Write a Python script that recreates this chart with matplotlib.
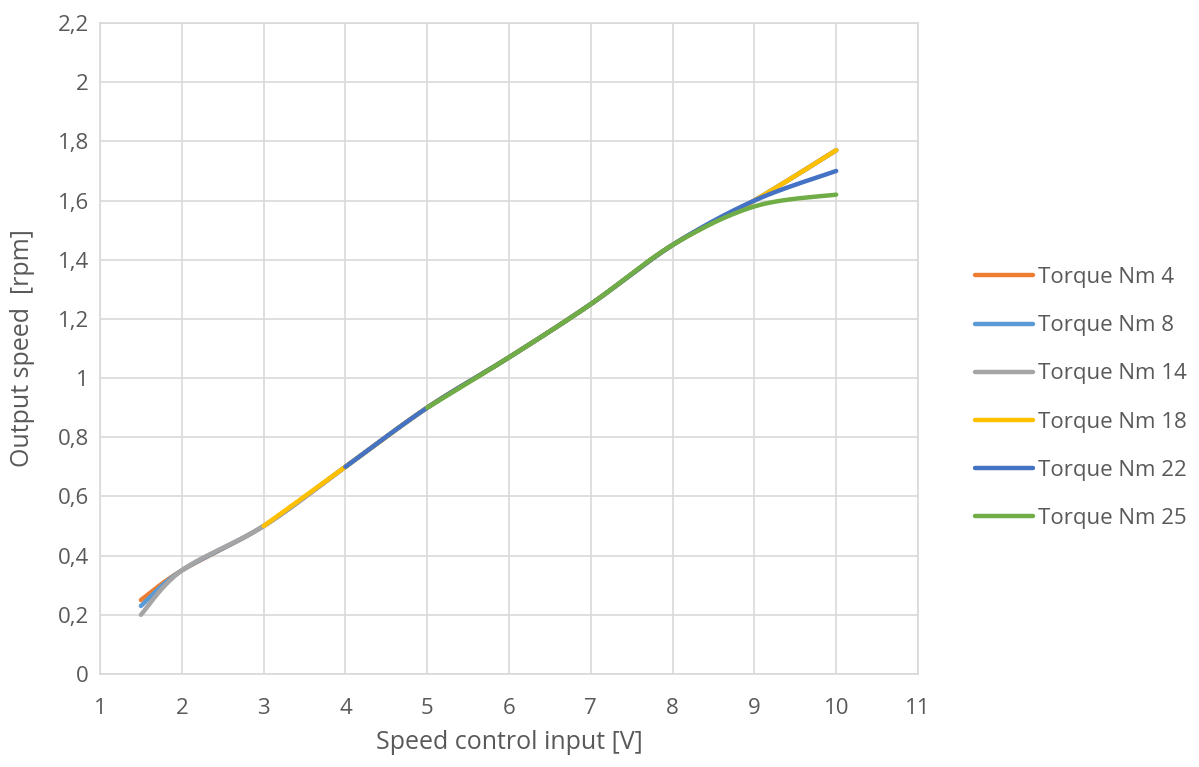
import numpy as np
import matplotlib.pyplot as plt

plt.rcParams['font.family'] = ['Open Sans', 'DejaVu Sans']

# speed control input [V] and output speed [rpm] per torque series
x_full = [1.5, 2, 3, 4, 5, 6, 7, 8, 9, 10]
torque_4 = [0.25, 0.35, 0.5, 0.7, 0.9, 1.07, 1.25, 1.45, 1.6, 1.77]
torque_8 = [0.23, 0.35, 0.5, 0.7, 0.9, 1.07, 1.25, 1.45, 1.6, 1.77]
torque_14 = [0.20, 0.35, 0.5, 0.7, 0.9, 1.07, 1.25, 1.45, 1.6, 1.77]
x_18 = [3, 4, 5, 6, 7, 8, 9, 10]
torque_18 = [0.5, 0.7, 0.9, 1.07, 1.25, 1.45, 1.6, 1.77]
x_22 = [4, 5, 6, 7, 8, 9, 10]
torque_22 = [0.7, 0.9, 1.07, 1.25, 1.45, 1.6, 1.70]
x_25 = [5, 6, 7, 8, 9, 10]
torque_25 = [0.9, 1.07, 1.25, 1.45, 1.58, 1.62]

labels = ['Torque Nm 4', 'Torque Nm 8', 'Torque Nm 14',
          'Torque Nm 18', 'Torque Nm 22', 'Torque Nm 25']
colors = ['#ED7D31', '#5B9BD5', '#A5A5A5', '#FFC000', '#4472C4', '#70AD47']

y_ticks = [0, 0.2, 0.4, 0.6, 0.8, 1, 1.2, 1.4, 1.6, 1.8, 2, 2.2]
x_ticks = [1, 2, 3, 4, 5, 6, 7, 8, 9, 10, 11]


def smooth(xs, ys, n=30):
    # excel-like smoothed line (bezier through points)
    p = np.column_stack([xs, ys]).astype(float)
    out = []
    for i in range(len(p) - 1):
        p0 = p[i - 1] if i > 0 else p[i]
        p1, p2 = p[i], p[i + 1]
        p3 = p[i + 2] if i + 2 < len(p) else p[i + 1]
        c1 = p1 + (p2 - p0) / 6
        c2 = p2 - (p3 - p1) / 6
        t = np.linspace(0, 1, n)[:, None]
        seg = ((1 - t) ** 3 * p1 + 3 * (1 - t) ** 2 * t * c1
               + 3 * (1 - t) * t ** 2 * c2 + t ** 3 * p2)
        out.append(seg if i == 0 else seg[1:])
    out = np.vstack(out)
    return out[:, 0], out[:, 1]


fig = plt.figure(figsize=(11.99, 7.67), dpi=100)
ax = fig.add_axes([100 / 1199, 1 - 674 / 767, 818 / 1199, 651 / 767])

series = [(x_full, torque_4), (x_full, torque_8), (x_full, torque_14),
          (x_18, torque_18), (x_22, torque_22), (x_25, torque_25)]
for (xs, ys), lab, c in zip(series, labels, colors):
    sx, sy = smooth(xs, ys)
    ax.plot(sx, sy, color=c, lw=3.2, label=lab, solid_capstyle='round')

ax.set_xlim(1, 11)
ax.set_ylim(0, 2.2)
ax.set_xticks(x_ticks)
ax.set_yticks(y_ticks)
ax.set_yticklabels([('%g' % v).replace('.', ',') for v in y_ticks])
ax.grid(color='#D9D9D9', lw=1.2)
ax.set_axisbelow(True)
for s in ax.spines.values():
    s.set_color('#D9D9D9')
    s.set_linewidth(1.2)
ax.tick_params(length=0, labelsize=16, labelcolor='#595959')
ax.tick_params(axis='x', pad=17)
ax.tick_params(axis='y', pad=8)
ax.set_xlabel('Speed control input [V]', fontsize=18, color='#595959', labelpad=8)
ax.set_ylabel('Output speed  [rpm]', fontsize=18, color='#595959', labelpad=16)

leg = ax.legend(loc='center left', bbox_to_anchor=(1.0587, 0.424), frameon=False,
                borderaxespad=0, fontsize=16, labelspacing=1.22,
                handlelength=2.6, handletextpad=0.22)
for t in leg.get_texts():
    t.set_color('#595959')

fig.savefig('out.png', dpi=100)
